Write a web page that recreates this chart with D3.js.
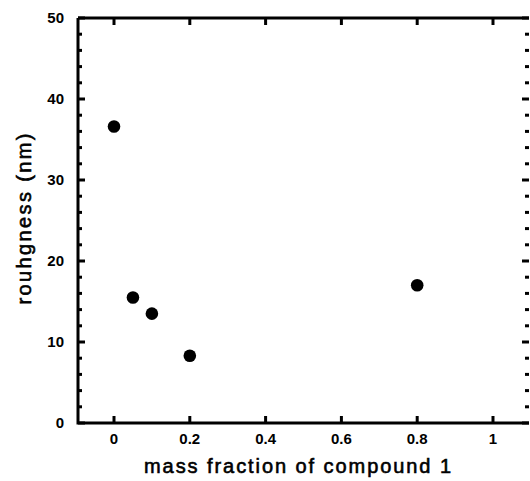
<!DOCTYPE html>
<html><head><meta charset="utf-8">
<script src="https://cdn.jsdelivr.net/npm/d3@7"></script>
<style>body{margin:0;background:#fff}svg{display:block}</style>
</head><body>
<script>
const massFraction = [0, 0.05, 0.1, 0.2, 0.8];
const roughness = [36.6, 15.5, 13.5, 8.3, 17.0];
const xTicks = [0, 0.2, 0.4, 0.6, 0.8, 1];
const xTickLabels = ["0", "0.2", "0.4", "0.6", "0.8", "1"];
const yTicks = [0, 10, 20, 30, 40, 50];
const yMinorTicks = d3.range(0, 50.01, 2);

const W = 530, H = 481;
const L = 78, R = 529, T = 18, B = 423;
const svg = d3.select("body").append("svg").attr("width", W).attr("height", H);
const x = d3.scaleLinear().domain([-0.095, 1.095]).range([L, R]);
const y = d3.scaleLinear().domain([0, 50]).range([B, T]);
const font = "'Liberation Sans', Arial, sans-serif";

const g = svg.append("g");
// ticks
const tk = g.append("g").attr("stroke", "#000").attr("stroke-width", 3);
yMinorTicks.forEach(v => {
  const major = yTicks.includes(Math.round(v));
  const len = major ? 7 : 4;
  tk.append("line").attr("x1", L).attr("x2", L + len).attr("y1", y(v)).attr("y2", y(v));
  tk.append("line").attr("x1", R).attr("x2", R - len).attr("y1", y(v)).attr("y2", y(v));
});
xTicks.forEach(v => {
  tk.append("line").attr("x1", x(v)).attr("x2", x(v)).attr("y1", B).attr("y2", B - 7);
  tk.append("line").attr("x1", x(v)).attr("x2", x(v)).attr("y1", T).attr("y2", T + 7);
});
// frame
g.append("path").attr("d", `M${L},${T}H${R}M${L},${T}V${B}H${R}`)
  .attr("fill", "none").attr("stroke", "#000").attr("stroke-width", 3);

// labels
g.selectAll(".yl").data(yTicks).enter().append("text")
  .attr("x", 64).attr("y", d => y(d)).attr("dy", "0.36em")
  .attr("text-anchor", "end").attr("font-family", font).attr("font-weight", "bold")
  .attr("font-size", 15).text(d => d);
g.selectAll(".xl").data(xTicks).enter().append("text")
  .attr("x", d => x(d)).attr("y", 444)
  .attr("text-anchor", "middle").attr("font-family", font).attr("font-weight", "bold")
  .attr("font-size", 15).text((d, i) => xTickLabels[i]);

g.append("text").attr("x", 297.5).attr("y", 473).attr("text-anchor", "middle")
  .attr("font-family", font).attr("font-size", 20)
  .attr("stroke", "#000").attr("stroke-width", 0.6)
  .attr("textLength", 307).attr("lengthAdjust", "spacing")
  .text("mass fraction of compound 1");
g.append("text").attr("transform", `translate(31,219) rotate(-90)`)
  .attr("text-anchor", "middle")
  .attr("font-family", font).attr("font-size", 20)
  .attr("stroke", "#000").attr("stroke-width", 0.6)
  .attr("textLength", 171).attr("lengthAdjust", "spacing")
  .text("rouhgness (nm)");

// points
g.selectAll("circle").data(massFraction).enter().append("circle")
  .attr("cx", d => x(d)).attr("cy", (d, i) => y(roughness[i])).attr("r", 6.3)
  .attr("fill", "#000");
</script>
</body></html>
